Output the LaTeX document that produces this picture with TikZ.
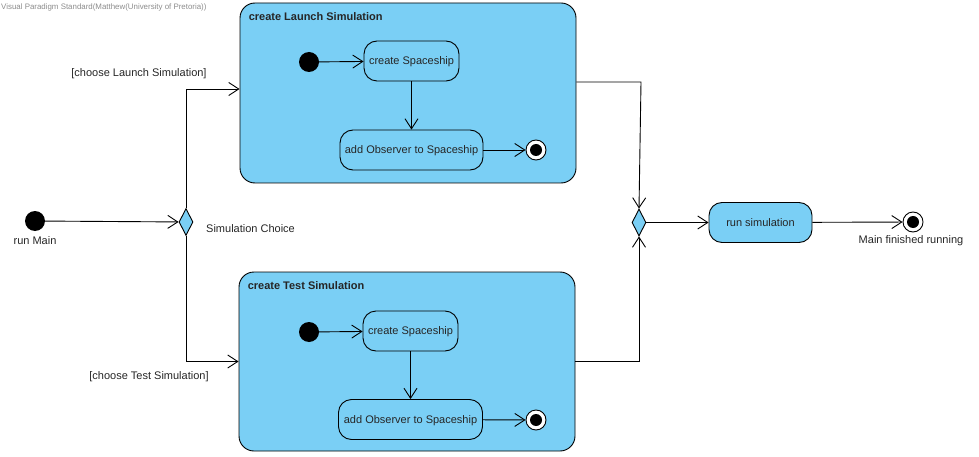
\documentclass[tikz,border=0pt]{standalone}
\usepackage{fontspec}
\setmainfont{Liberation Sans}
\usetikzlibrary{arrows.meta,shapes.geometric}
\definecolor{vpblue}{RGB}{122,207,245}
\begin{document}
\begin{tikzpicture}[x=1pt,y=-1pt,
  every node/.style={font=\fontsize{11}{13}\selectfont, inner sep=0pt, text=black!85},
  flow/.style={draw=black, line width=0.9pt, -{Straight Barb[length=10pt,width=13pt,line width=0.9pt]}},
  comp/.style={draw=black, fill=vpblue, line width=0.9pt, rounded corners=15pt},
  state/.style={draw=black, fill=vpblue, line width=0.9pt, rounded corners=13pt, text height=8pt, text depth=1pt},
  title/.style={font=\bfseries\fontsize{11}{13}\selectfont, anchor=west},
  init/.style={circle, fill=black, minimum size=20pt},
  final/.style={circle, draw=black, fill=white, line width=0.9pt, minimum size=20pt,
    path picture={\fill[black] (path picture bounding box.center) circle (6pt);}},
  choice/.style={diamond, draw=black, fill=vpblue, line width=0.9pt, minimum width=14pt, minimum height=27pt},
  lbl/.style={font=\fontsize{11}{13}\selectfont}
]
\useasboundingbox (0,0) rectangle (979,457);

\node[anchor=west, font=\fontsize{7.9}{9}\selectfont, text=black!45] (wm) at (1,7) {Visual Paradigm Standard(Matthew(University of Pretoria))};

% top composite
\node[comp, minimum width=336pt, minimum height=180pt] (L) at (408,93) {};
\node[title] (Lt) at ([xshift=9pt,yshift=-14pt]L.north west) {create Launch Simulation};
\node[init] (Li) at (309,62) {};
\node[state, minimum width=95pt, minimum height=40pt] (Lc) at (411.5,61) {create Spaceship};
\node[state, minimum width=143pt, minimum height=40pt] (La) at (411.5,150) {add Observer to Spaceship};
\node[final] (Lf) at (536,150) {};
\draw[flow] (Li) -- (Lc);
\draw[flow] (Lc) -- (La);
\draw[flow] (La) -- (Lf);

% bottom composite
\node[comp, minimum width=336pt, minimum height=179pt] (T) at (407,361.5) {};
\node[title] (Tt) at ([xshift=9pt,yshift=-14pt]T.north west) {create Test Simulation};
\node[init] (Ti) at (309,332) {};
\node[state, minimum width=95pt, minimum height=40pt] (Tc) at (410.5,331) {create Spaceship};
\node[state, minimum width=144pt, minimum height=40pt] (Ta) at (410.5,419.5) {add Observer to Spaceship};
\node[final] (Tf) at (536,420) {};
\draw[flow] (Ti) -- (Tc);
\draw[flow] (Tc) -- (Ta);
\draw[flow] (Ta) -- (Tf);

% main flow
\node[init] (Mi) at (35,221) {};
\node[lbl] (MiL) at (35,241) {run Main};
\node[choice] (D) at (186,222) {};
\node[lbl, anchor=west] (DL) at (206,229) {Simulation Choice};
\node[choice] (M) at (639,222.5) {};
\node[state, minimum width=103pt, minimum height=40pt] (R) at (760.5,222.5) {run simulation};
\node[final] (F) at (913,222) {};
\node[lbl] (FL) at (911,241) {Main finished running};

\draw[flow] (Mi) -- (D);
\draw[flow] (D.north) |- ([yshift=4pt]L.west);
\draw[flow] (D.south) |- (T.west);
\node[lbl] (g1) at (139,74) {[choose Launch Simulation]};
\node[lbl] (g2) at (149,377) {[choose Test Simulation]};
\coordinate (mt) at (641,82);
\draw[flow] ([yshift=11pt]L.east) -- (mt) -- (M.north);
\draw[flow] (T.east) -| (M.south);
\draw[flow] (M) -- (R);
\draw[flow] (R) -- (F);
\end{tikzpicture}
\end{document}
